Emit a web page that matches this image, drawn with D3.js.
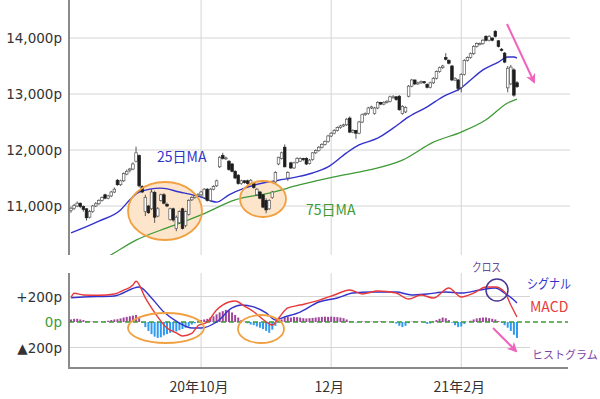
<!DOCTYPE html>
<html>
<head>
<meta charset="utf-8">
<script src="https://cdn.jsdelivr.net/npm/d3@7"></script>
<style>
    body { margin: 0; background: #fff; }
    #chart { width: 600px; height: 399px; }
</style>
</head>
<body>
<div id="chart"></div>
<script>

// candles, one per trading day (index 0 = early Aug 2020)
const openVals = [10920,10960,11000,11050,10990,10950,10800,10900,11000,11040,
    11100,11200,11140,11180,11250,11460,11380,11450,11570,11640,
    11660,11800,11900,11350,10900,11000,10950,11240,10820,11100,
    11200,11030,10760,10950,10600,10700,10950,10650,10850,11110,
    11150,11180,11200,11150,11300,11100,11300,11360,11700,11900,
    11850,11800,11750,11620,11550,11400,11450,11450,11400,11400,
    11200,11250,11200,11100,10950,11150,11430,11750,11850,12050,
    11500,11770,11680,11780,11800,11850,11850,11760,11830,11950,
    11990,12050,12100,12150,12250,12300,12350,12400,12430,12450,
    12570,12320,12350,12300,12500,12630,12650,12750,12650,12750,
    12850,12820,12850,12870,12950,12950,12960,12650,12680,12960,
    13140,13250,13180,13200,13220,13170,13120,13200,13280,13400,
    13470,13650,13600,13500,13250,13250,13120,13350,13600,13650,
    13720,13850,13880,13900,14030,13960,14000,14120,13950,13800,
    13730,13110,13180,13430,13200];
const highVals = [10990,11040,11080,11060,11010,10960,10930,11020,11070,11120,
    11170,11220,11200,11270,11330,11480,11470,11600,11650,11680,
    11780,12060,11920,11370,11200,11020,11300,11270,10980,11220,
    11230,11060,10970,10970,10830,10920,10970,10920,11120,11170,
    11200,11230,11270,11320,11320,11320,11370,11470,11890,11950,
    11880,11820,11770,11640,11570,11470,11460,11470,11480,11420,
    11320,11270,11210,11140,11120,11270,11620,11880,11970,12100,
    11620,11790,11790,11870,11870,11860,11870,11840,11960,12010,
    12070,12120,12170,12270,12320,12370,12420,12450,12470,12570,
    12600,12370,12360,12520,12650,12670,12770,12790,12770,12870,
    12860,12870,12890,12970,12980,12960,12980,12800,12780,13160,
    13270,13260,13220,13240,13230,13190,13220,13300,13420,13490,
    13520,13730,13620,13520,13300,13270,13370,13620,13670,13740,
    13870,13920,13920,13980,14050,14050,14010,14140,13960,13820,
    13750,13500,13520,13460,13230];
const lowVals = [10880,10930,10980,10960,10900,10740,10780,10880,10980,11020,
    11080,11120,11120,11160,11230,11360,11360,11430,11550,11600,
    11640,11780,11330,11230,10820,10860,10930,10700,10800,11080,
    11030,10980,10740,10720,10550,10680,10580,10620,10830,11090,
    11130,11160,11180,11130,11080,11080,11280,11340,11680,11830,
    11820,11630,11600,11480,11380,11380,11400,11380,11390,11310,
    11180,11120,10960,10870,10930,11130,11410,11730,11830,11690,
    11450,11660,11660,11760,11790,11800,11730,11740,11810,11930,
    11970,12030,12080,12130,12230,12280,12330,12380,12410,12430,
    12300,12300,12200,12280,12480,12610,12630,12730,12630,12730,
    12800,12800,12830,12850,12920,12880,12700,12630,12660,12940,
    13120,13160,13160,13180,13180,13100,13100,13180,13260,13380,
    13450,13600,13530,13230,13230,13050,13030,13330,13580,13630,
    13700,13830,13870,13880,13940,13940,13940,14010,13830,13760,
    13550,13030,13160,12950,13110];
const closeVals = [10960,11010,11050,10990,10940,10790,10900,11000,11040,11100,
    11150,11140,11180,11250,11300,11380,11450,11580,11620,11660,
    11750,11950,11360,11250,11150,10880,11250,10800,10950,11200,
    11050,11000,10950,10750,10800,10900,10600,10900,11100,11150,
    11180,11200,11250,11300,11100,11300,11350,11450,11870,11850,
    11860,11650,11620,11500,11400,11450,11420,11400,11460,11330,
    11300,11140,10980,10930,11100,11250,11600,11870,11950,11700,
    11600,11680,11770,11850,11850,11830,11750,11820,11950,11990,
    12050,12100,12150,12250,12300,12350,12400,12430,12450,12550,
    12320,12350,12300,12500,12630,12650,12750,12770,12750,12850,
    12820,12850,12870,12950,12950,12900,12720,12780,12760,13140,
    13250,13180,13200,13220,13200,13120,13200,13280,13400,13470,
    13500,13620,13550,13250,13280,13100,13350,13600,13650,13720,
    13850,13900,13900,13960,13960,14030,13960,14030,13850,13780,
    13570,13460,13480,12980,13130];

// moving averages (day index, value)
const ma25Idx = [0, 9, 16, 19, 22, 29, 35, 42, 47, 51, 56, 62, 67, 73, 78, 83, 89, 93, 99, 104, 109, 115, 120, 126, 129, 133, 138, 141, 143, 144];
const ma25Vals = [10520, 10730, 10930, 11110, 11250, 11320, 11250, 11160, 11070, 11200, 11320, 11410, 11460, 11520, 11590, 11700, 11950, 12090, 12210, 12390, 12590, 12770, 12950, 13110, 13250, 13430, 13570, 13660, 13660, 13640];
const ma75Idx = [8, 13, 21, 31, 36, 42, 53, 64, 74, 85, 96, 107, 117, 126, 134, 141, 144];
const ma75Vals = [9980, 10130, 10390, 10610, 10710, 10840, 11110, 11230, 11380, 11520, 11640, 11820, 12140, 12320, 12540, 12840, 12910];

// MACD panel
const macdIdx = [0, 1, 4, 9, 14, 17, 20, 21, 24, 28, 31, 34, 36, 39, 41, 44, 47, 51, 53, 56, 59, 62, 65, 67, 70, 74, 80, 85, 90, 94, 99, 105, 109, 113, 117, 122, 126, 130, 134, 137, 140, 142, 144];
const macdVals = [190, 225, 212, 210, 220, 250, 290, 320, 190, 40, -47, -86, -110, -90, -30, 0, 94, 157, 165, 125, 80, 20, -24, 30, 110, 133, 170, 212, 251, 220, 243, 227, 180, 212, 188, 267, 196, 227, 275, 275, 235, 133, 39];
const signalIdx = [0, 4, 14, 22, 26, 30, 35, 39, 42, 47, 52, 55, 59, 63, 66, 69, 74, 80, 86, 91, 97, 105, 110, 115, 121, 126, 132, 137, 140, 143, 144];
const signalVals = [190, 196, 204, 275, 188, 78, -8, -47, -47, 0, 110, 133, 118, 71, 16, 39, 78, 157, 188, 227, 235, 235, 212, 220, 235, 227, 251, 267, 227, 173, 149];
const histVals = [20,25,25,20,15,8,5,3,2,2,
    3,5,10,15,20,22,28,35,40,45,
    50,55,30,-5,-40,-70,-95,-115,-125,-120,
    -105,-95,-85,-80,-75,-65,-55,-45,-35,-20,
    -10,5,15,20,25,35,45,60,75,85,
    95,90,75,55,35,15,2,-10,-20,-25,
    -35,-45,-55,-70,-85,-60,-30,5,20,35,
    40,35,40,38,35,30,28,30,32,35,
    38,40,42,40,42,40,38,35,30,20,
    8,3,-3,3,5,4,3,3,2,4,
    5,3,2,0,-5,-12,-30,-40,-30,-10,
    3,5,3,2,-3,-15,-12,5,15,25,
    35,30,15,-5,-25,-40,-35,-15,2,10,
    20,28,32,35,35,30,25,20,8,-5,
    -25,-45,-70,-100,-125];

// ticks
const priceTicks = [14000, 13000, 12000, 11000];
const priceTickLabels = ["14,000p", "13,000p", "12,000p", "11,000p"];
const macdTicks = [200, 0, -200];
const macdTickLabels = ["+200p", "0p", "▲200p"];
const monthTickIdx = [42, 84, 126];
const monthTickLabels = ["20年10月", "12月", "21年2月"];


class MacdChartVis {
    constructor(parentElement) {
        this.parentElement = parentElement;
        this.width = 600;
        this.height = 399;

        // panel boxes
        this.left = 69;
        this.right = 570;
        this.priceTop = 0;
        this.priceBottom = 255;
        this.macdTop = 273;
        this.macdBottom = 368;

        this.jpFont = "'Noto Sans CJK JP', 'Noto Sans', sans-serif";
        this.numFont = "'DejaVu Sans', Verdana, sans-serif";

        this.initVis();
    }

    initVis() {
        let vis = this;

        vis.svg = d3.select(vis.parentElement)
            .append("svg")
            .attr("width", vis.width)
            .attr("height", vis.height)
            .style("background-color", "#fff");

        vis.candles = openVals.map((o, i) => ({
            i: i, o: o, h: highVals[i], l: lowVals[i], c: closeVals[i]
        }));

        //Scales
        vis.x = d3.scaleLinear()
            .domain([0, openVals.length - 1])
            .range([71, 517]);

        vis.yPrice = d3.scaleLinear()
            .domain([11000, 14000])
            .range([206, 38]);

        vis.yMacd = d3.scaleLinear()
            .domain([-200, 200])
            .range([347.5, 296.5]);

        let defs = vis.svg.append("defs");
        defs.append("clipPath").attr("id", "priceClip")
            .append("rect")
            .attr("x", vis.left).attr("y", vis.priceTop)
            .attr("width", vis.right - vis.left).attr("height", vis.priceBottom - vis.priceTop);

        defs.append("marker")
            .attr("id", "pinkHead")
            .attr("viewBox", "0 0 10 10")
            .attr("refX", 8).attr("refY", 5)
            .attr("markerWidth", 5).attr("markerHeight", 5)
            .attr("markerUnits", "strokeWidth")
            .attr("orient", "auto")
            .append("path")
            .attr("d", "M0,0 L10,5 L0,10 L3,5 Z")
            .attr("fill", "#ef63bd");

        vis.drawGrid();
        vis.drawPrice();
        vis.drawMacd();
        vis.drawNotes();
    }

    drawGrid() {
        let vis = this;

        // horizontal gridlines, price panel
        vis.svg.append("g").selectAll("line")
            .data(priceTicks)
            .join("line")
            .attr("x1", vis.left).attr("x2", vis.right)
            .attr("y1", d => vis.yPrice(d)).attr("y2", d => vis.yPrice(d))
            .attr("stroke", "#d4d4d4").attr("stroke-width", 1);

        // +/-200 gridlines, macd panel
        vis.svg.append("g").selectAll("line")
            .data(macdTicks.filter(d => d !== 0))
            .join("line")
            .attr("x1", vis.left).attr("x2", 530)
            .attr("y1", d => vis.yMacd(d)).attr("y2", d => vis.yMacd(d))
            .attr("stroke", "#d4d4d4").attr("stroke-width", 1);

        // vertical month lines in both panels
        let vg = vis.svg.append("g");
        monthTickIdx.forEach(i => {
            vg.append("line")
                .attr("x1", vis.x(i)).attr("x2", vis.x(i))
                .attr("y1", vis.priceTop).attr("y2", vis.priceBottom)
                .attr("stroke", "#d4d4d4");
            vg.append("line")
                .attr("x1", vis.x(i)).attr("x2", vis.x(i))
                .attr("y1", vis.macdTop).attr("y2", vis.macdBottom)
                .attr("stroke", "#d4d4d4");
        });

        // axis lines
        vis.svg.append("line")
            .attr("x1", vis.left).attr("x2", vis.left)
            .attr("y1", vis.priceTop).attr("y2", vis.priceBottom)
            .attr("stroke", "#8a8a8a").attr("stroke-width", 2);
        vis.svg.append("line")
            .attr("x1", vis.left).attr("x2", vis.left)
            .attr("y1", vis.macdTop).attr("y2", vis.macdBottom)
            .attr("stroke", "#8a8a8a").attr("stroke-width", 2);
        vis.svg.append("line")
            .attr("x1", vis.left - 1).attr("x2", 568)
            .attr("y1", vis.macdBottom).attr("y2", vis.macdBottom)
            .attr("stroke", "#8a8a8a").attr("stroke-width", 2);

        // tick labels
        vis.svg.append("g").selectAll("text")
            .data(priceTicks)
            .join("text")
            .attr("x", 62)
            .attr("y", d => vis.yPrice(d) + 5)
            .attr("text-anchor", "end")
            .style("font-family", vis.numFont)
            .style("font-size", "13.5px")
            .style("fill", "#333")
            .text((d, i) => priceTickLabels[i]);

        vis.svg.append("g").selectAll("text")
            .data(macdTicks)
            .join("text")
            .attr("x", 62)
            .attr("y", d => vis.yMacd(d) + 5)
            .attr("text-anchor", "end")
            .style("font-family", vis.numFont)
            .style("font-size", "13.5px")
            .style("fill", d => d === 0 ? "#3d9a35" : "#333")
            .text((d, i) => macdTickLabels[i]);

        vis.svg.append("g").selectAll("text")
            .data(monthTickIdx)
            .join("text")
            .attr("x", d => vis.x(d) - 2)
            .attr("y", 392)
            .attr("text-anchor", "middle")
            .style("font-family", vis.jpFont)
            .style("font-size", "14px")
            .style("fill", "#333")
            .text((d, i) => monthTickLabels[i]);
    }

    drawPrice() {
        let vis = this;

        let g = vis.svg.append("g").attr("clip-path", "url(#priceClip)");

        // orange highlight fills go under the candles
        vis.priceEllipses = [
            {cx: 165, cy: 211, rx: 37, ry: 29},
            {cx: 263, cy: 199, rx: 23, ry: 18}
        ];
        g.selectAll(".hl-fill")
            .data(vis.priceEllipses)
            .join("ellipse")
            .attr("class", "hl-fill")
            .attr("cx", d => d.cx).attr("cy", d => d.cy)
            .attr("rx", d => d.rx).attr("ry", d => d.ry)
            .attr("fill", "#fde5cc");

        let lineGen = d3.line()
            .x(d => vis.x(d[0]))
            .y(d => vis.yPrice(d[1]))
            .curve(d3.curveMonotoneX);

        g.append("path")
            .datum(ma75Idx.map((d, i) => [d, ma75Vals[i]]))
            .attr("d", lineGen)
            .attr("fill", "none")
            .attr("stroke", "#3d9a35")
            .attr("stroke-width", 1.3);

        g.append("path")
            .datum(ma25Idx.map((d, i) => [d, ma25Vals[i]]))
            .attr("d", lineGen)
            .attr("fill", "none")
            .attr("stroke", "#3333cc")
            .attr("stroke-width", 1.4);

        // candles
        let cg = g.append("g");
        cg.selectAll(".wick")
            .data(vis.candles)
            .join("line")
            .attr("class", "wick")
            .attr("x1", d => vis.x(d.i)).attr("x2", d => vis.x(d.i))
            .attr("y1", d => vis.yPrice(d.h)).attr("y2", d => vis.yPrice(d.l))
            .attr("stroke", "#444").attr("stroke-width", 0.9);

        cg.selectAll(".body")
            .data(vis.candles)
            .join("rect")
            .attr("class", "body")
            .attr("x", d => vis.x(d.i) - 1.3)
            .attr("width", 2.6)
            .attr("y", d => vis.yPrice(Math.max(d.o, d.c)))
            .attr("height", d => Math.max(1, Math.abs(vis.yPrice(d.o) - vis.yPrice(d.c))))
            .attr("fill", d => d.c >= d.o ? "#fff" : "#1e1e1e")
            .attr("stroke", d => d.c >= d.o ? "#555" : "#1e1e1e")
            .attr("stroke-width", 0.7);

        // ellipse outlines on top
        g.selectAll(".hl-line")
            .data(vis.priceEllipses)
            .join("ellipse")
            .attr("class", "hl-line")
            .attr("cx", d => d.cx).attr("cy", d => d.cy)
            .attr("rx", d => d.rx).attr("ry", d => d.ry)
            .attr("fill", "none")
            .attr("stroke", "#f0a040")
            .attr("stroke-width", 1.8);
    }

    drawMacd() {
        let vis = this;

        let g = vis.svg.append("g");
        let zero = vis.yMacd(0);

        // histogram
        g.selectAll(".hist")
            .data(histVals)
            .join("rect")
            .attr("class", "hist")
            .attr("x", (d, i) => vis.x(i) - 1)
            .attr("width", 2)
            .attr("y", d => d >= 0 ? vis.yMacd(d) : zero)
            .attr("height", d => Math.abs(vis.yMacd(d) - zero))
            .attr("fill", d => d >= 0 ? "#a0469a" : "#2f9bf0");

        // zero line
        g.append("line")
            .attr("x1", vis.left).attr("x2", 568)
            .attr("y1", zero).attr("y2", zero)
            .attr("stroke", "#3d9a35")
            .attr("stroke-width", 1.6)
            .attr("stroke-dasharray", "5,3");

        let lineGen = d3.line()
            .x(d => vis.x(d[0]))
            .y(d => vis.yMacd(d[1]))
            .curve(d3.curveMonotoneX);

        g.append("path")
            .datum(signalIdx.map((d, i) => [d, signalVals[i]]))
            .attr("d", lineGen)
            .attr("fill", "none")
            .attr("stroke", "#3333cc")
            .attr("stroke-width", 1.4);

        g.append("path")
            .datum(macdIdx.map((d, i) => [d, macdVals[i]]))
            .attr("d", lineGen)
            .attr("fill", "none")
            .attr("stroke", "#e8393a")
            .attr("stroke-width", 1.4);

        // orange circles around the dips
        g.selectAll(".hl-macd")
            .data([{cx: 166, cy: 328, rx: 38, ry: 15}, {cx: 261, cy: 329, rx: 23, ry: 14}])
            .join("ellipse")
            .attr("class", "hl-macd")
            .attr("cx", d => d.cx).attr("cy", d => d.cy)
            .attr("rx", d => d.rx).attr("ry", d => d.ry)
            .attr("fill", "none")
            .attr("stroke", "#f0a040")
            .attr("stroke-width", 1.8);
    }

    drawNotes() {
        let vis = this;

        let addText = (x, y, txt, size, color, len) => {
            let t = vis.svg.append("text")
                .attr("x", x).attr("y", y)
                .style("font-family", vis.jpFont)
                .style("font-size", size + "px")
                .style("fill", color)
                .text(txt);
            if (len) t.attr("textLength", len).attr("lengthAdjust", "spacingAndGlyphs");
            return t;
        };

        addText(157, 162, "25日MA", 14, "#3333cc");
        addText(306, 215, "75日MA", 14, "#3d9a35");

        addText(472, 272, "クロス", 12, "#6b4b9b", 29);
        addText(527, 288, "シグナル", 13, "#3333cc", 44);
        addText(530, 312, "MACD", 14, "#e8393a");
        addText(532, 359, "ヒストグラム", 11, "#7b45a8");

        // cross circle
        vis.svg.append("circle")
            .attr("cx", 497).attr("cy", 290).attr("r", 11)
            .attr("fill", "none")
            .attr("stroke", "#4b3592")
            .attr("stroke-width", 1.5);

        // pink arrows
        vis.svg.append("line")
            .attr("x1", 507).attr("y1", 24).attr("x2", 534).attr("y2", 82)
            .attr("stroke", "#ef63bd").attr("stroke-width", 2)
            .attr("marker-end", "url(#pinkHead)");
        vis.svg.append("line")
            .attr("x1", 493).attr("y1", 328).attr("x2", 516).attr("y2", 351)
            .attr("stroke", "#ef63bd").attr("stroke-width", 2)
            .attr("marker-end", "url(#pinkHead)");
    }
}

let macdChart = new MacdChartVis("#chart");
</script>
</body>
</html>
